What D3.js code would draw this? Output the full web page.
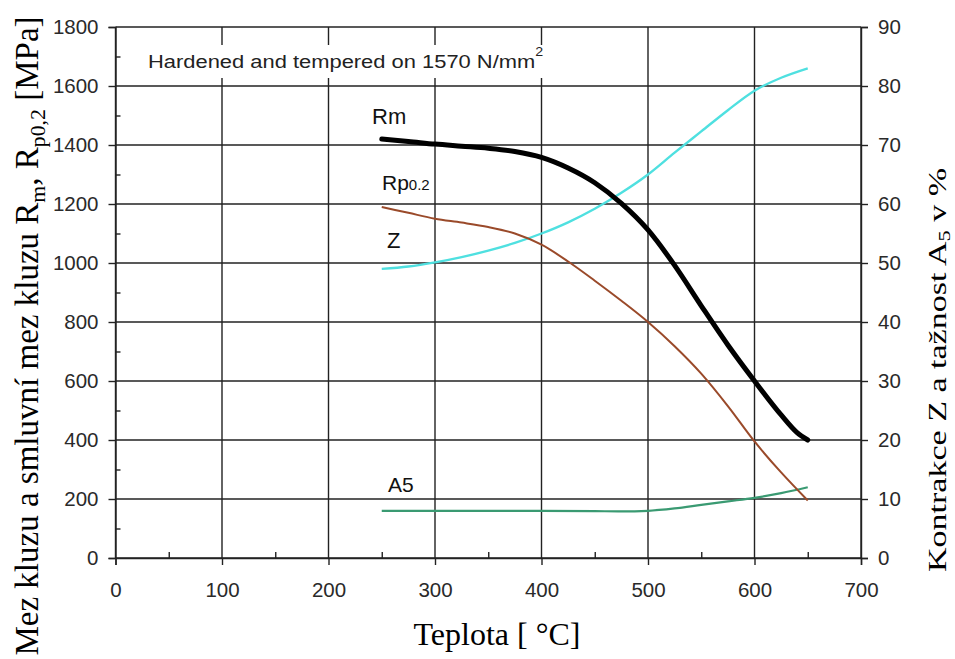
<!DOCTYPE html>
<html><head><meta charset="utf-8">
<script src="https://cdn.jsdelivr.net/npm/d3@7"></script>
<style>body{margin:0;background:#fff}svg{display:block}</style>
</head><body>
<svg id="c" width="955" height="659"></svg>
<script>
// ---- data ----
const temps = [250,275,300,325,350,375,400,425,450,475,500,525,550,575,600,625,640,650];
const rm    = [1420,1412,1403,1396,1389,1378,1358,1322,1272,1202,1112,992,855,722,600,485,425,400];
const rpTemps = [250,275,300,325,350,375,400,425,450,475,500,525,550,575,600,625,650];
const rp    = [1190,1170,1150,1137,1122,1100,1062,1005,940,872,800,718,625,515,395,290,195];
const zTemps = [250,275,300,325,350,375,400,425,450,475,500,525,550,575,600,625,650];
const z     = [49,49.4,50.1,51,52.1,53.4,55,56.9,59.2,61.9,65,68.7,72.3,75.9,79.2,81.4,83];
const aTemps = [250,300,350,400,450,475,500,525,550,575,600,625,650];
const a5    = [8,8,8,8,7.95,7.9,8,8.4,9,9.6,10.2,11,12];
const xTicks = [0,100,200,300,400,500,600,700];
const yTicks = [0,200,400,600,800,1000,1200,1400,1600,1800];
const y2Ticks = [0,10,20,30,40,50,60,70,80,90];

const svg = d3.select("#c");
const L=115.5, R=861, T=27, B=558;
const x = d3.scaleLinear().domain([0,700]).range([L,R]);
const y = d3.scaleLinear().domain([0,1800]).range([B,T]);
const y2 = d3.scaleLinear().domain([0,90]).range([B,T]);
const gridCol = "#222";
const sans = "Liberation Sans, Arial, sans-serif";
const serif = "Liberation Serif, Times New Roman, serif";

// grid
svg.append("g").selectAll("line").data(yTicks).join("line")
  .attr("x1",L).attr("x2",R).attr("y1",d=>y(d)).attr("y2",d=>y(d))
  .attr("stroke",gridCol).attr("stroke-width",1.4);
svg.append("g").selectAll("line").data(xTicks).join("line")
  .attr("x1",d=>x(d)).attr("x2",d=>x(d)).attr("y1",T).attr("y2",B)
  .attr("stroke",gridCol).attr("stroke-width",1.4);

// title box
svg.append("rect").attr("x",138).attr("y",45).attr("width",408).attr("height",33).attr("fill","#fff");
const tg = svg.append("g");
const title = tg.append("text").attr("x",0).attr("y",0)
  .attr("font-family",sans).attr("font-size",18.5).attr("fill","#222");
title.append("tspan").text("Hardened and tempered on 1570 N/mm");
title.append("tspan").attr("dy",-12).attr("font-size",12).text("2");
const tw = title.node().getBBox().width;
tg.attr("transform",`translate(148,68) scale(${396/tw},1)`);

// axes
const fmt = d3.format("d");
const gl = svg.append("g").attr("transform",`translate(${L},0)`)
  .call(d3.axisLeft(y).tickValues(yTicks).tickFormat(fmt).tickSize(7).tickPadding(10));
const gb = svg.append("g").attr("transform",`translate(0,${B})`)
  .call(d3.axisBottom(x).tickValues(xTicks).tickFormat(fmt).tickSize(7).tickPadding(17));
const gr = svg.append("g").attr("transform",`translate(${R},0)`)
  .call(d3.axisRight(y2).tickValues(y2Ticks).tickFormat(fmt).tickSize(7).tickPadding(10));
// minor ticks
const gml = svg.append("g").attr("transform",`translate(${L},0)`)
  .call(d3.axisRight(y).tickValues(d3.range(100,1800,200)).tickSize(5).tickFormat(""));
const gmb = svg.append("g").attr("transform",`translate(0,${B})`)
  .call(d3.axisTop(x).tickValues(d3.range(50,700,100)).tickSize(6).tickFormat(""));
[gl,gb,gr,gml,gmb].forEach(g=>{
  g.selectAll("path.domain").attr("stroke",gridCol).attr("stroke-width",1.4);
  g.selectAll("line").attr("stroke",gridCol).attr("stroke-width",1.4);
  g.selectAll("text").attr("font-family",sans).attr("font-size",20.5).attr("fill","#2a2a2a");
});
gml.select("path.domain").remove(); gmb.select("path.domain").remove();

// lines
const line = (xs,ys,sc)=>d3.line().curve(d3.curveMonotoneX).x((d,i)=>x(xs[i])).y(d=>sc(d))(ys);
svg.append("path").attr("d",line(aTemps,a5,y2)).attr("fill","none").attr("stroke","#3a9a72").attr("stroke-width",2.2);
svg.append("path").attr("d",line(zTemps,z,y2)).attr("fill","none").attr("stroke","#4fe0e0").attr("stroke-width",2.4);
svg.append("path").attr("d",line(rpTemps,rp,y)).attr("fill","none").attr("stroke","#9a4a2a").attr("stroke-width",2);
svg.append("path").attr("d",line(temps,rm,y)).attr("fill","none").attr("stroke","#000").attr("stroke-width",5).attr("stroke-linecap","round");

// series labels
const lab = (t,xx,yy,fs)=>svg.append("text").attr("x",xx).attr("y",yy).attr("font-family",sans).attr("font-size",fs).attr("fill","#111").text(t);
lab("Rm",372,124,22);
const rpl = lab("Rp",382,190,21); rpl.append("tspan").attr("font-size",15).text("0.2");
lab("Z",387,248,22);
lab("A5",388,492,21);

// axis titles
function fitTitle(sel, target){
  const w = sel.node().getComputedTextLength();
  const f = 24*target/w;
  sel.attr("font-size",f);
  sel.selectAll("tspan.sub").attr("font-size",f*0.66).attr("dy",5*f/24);
  sel.selectAll("tspan.back").attr("dy",-5*f/24);
}
const lt = svg.append("text").attr("transform","translate(38,336) rotate(-90)").attr("text-anchor","middle")
  .attr("font-family",serif).attr("font-size",24).attr("fill","#000");
lt.append("tspan").text("Mez kluzu a smluvní mez kluzu R");
lt.append("tspan").attr("class","sub").attr("font-size",16).attr("dy",5).text("m");
lt.append("tspan").attr("class","back").attr("dy",-5).text(", R");
lt.append("tspan").attr("class","sub").attr("font-size",16).attr("dy",5).text("p0,2");
lt.append("tspan").attr("class","back").attr("dy",-5).text(" [MPa]");
fitTitle(lt, 640);

const rt = svg.append("text").attr("transform","translate(946,370) rotate(-90)").attr("text-anchor","middle")
  .attr("font-family",serif).attr("font-size",26).attr("fill","#000");
rt.append("tspan").text("Kontrakce Z a tažnost A");
rt.append("tspan").attr("font-size",17).attr("dy",4).text("5");
rt.append("tspan").attr("dy",-4).text(" v %");
rt.attr("textLength",404).attr("lengthAdjust","spacingAndGlyphs");

const bt = svg.append("text").attr("x",497).attr("y",645).attr("text-anchor","middle")
  .attr("font-family",serif).attr("font-size",24).attr("fill","#000").text("Teplota [ °C]");
fitTitle(bt, 167);
</script>
</body></html>
